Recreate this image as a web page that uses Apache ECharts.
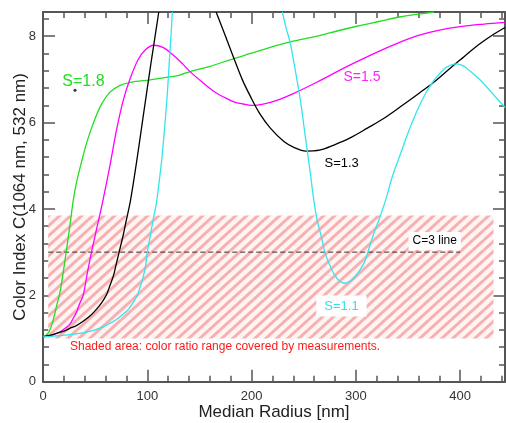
<!DOCTYPE html>
<html><head><meta charset="utf-8">
<script src="https://cdn.jsdelivr.net/npm/echarts@6/dist/echarts.min.js"></script>
<style>html,body{margin:0;padding:0;background:#fff}#c{width:506px;height:423px}</style>
</head><body><div id="c"></div>
<script>
// ---- data (median radius [nm], color index) ----
const S18 = [[0,1.04],[4,1.1],[7,1.22],[10,1.45],[13,1.75],[16.5,2.1],[19.5,2.55],[22.5,3.05],[26,3.65],[29,4.2],[32,4.6],[35.5,4.95],[41.5,5.5],[48,5.97],[56,6.42],[64,6.7],[74,6.86],[84,6.93],[103,6.99],[120,7.05],[131,7.1],[141,7.18],[160,7.3],[180,7.46],[199,7.6],[218,7.74],[237,7.87],[263,8.0],[282,8.12],[301,8.23],[322,8.34],[343,8.45],[360,8.51],[375,8.56]];
const S15 = [[0,1.04],[6.4,1.06],[16,1.15],[22,1.25],[26,1.34],[29,1.47],[32,1.6],[35,1.8],[38.5,2.0],[42,2.45],[46.5,3.0],[52,3.6],[57.5,4.2],[64,4.98],[70.5,5.83],[77,6.52],[83,6.98],[91,7.45],[98,7.68],[106,7.79],[115,7.74],[125,7.56],[133,7.38],[141,7.18],[152,6.95],[164,6.72],[175,6.57],[183,6.48],[192,6.43],[200,6.4],[210,6.42],[225,6.52],[240,6.67],[263,6.94],[282,7.18],[301,7.41],[322,7.65],[343,7.87],[360,8.02],[378,8.13],[400,8.22],[423,8.28],[443,8.32]];
const S13 = [[0,1.04],[6.4,1.07],[13,1.12],[22,1.19],[26,1.24],[32,1.3],[38.5,1.4],[45,1.52],[51,1.67],[56,1.82],[61,2.02],[64.5,2.25],[67.5,2.45],[70,2.7],[73,3.0],[76.5,3.35],[80,3.75],[84,4.21],[90,5.13],[96,6.13],[104,7.45],[107.5,8.0],[111,8.56],null,[166,8.56],[175,8.0],[183,7.49],[191,7.0],[199,6.6],[208,6.2],[218,5.87],[231,5.56],[241,5.42],[252,5.34],[265,5.36],[279,5.48],[295,5.65],[311,5.87],[327,6.1],[343,6.37],[359,6.65],[375,6.94],[391,7.27],[404,7.53],[417,7.79],[430,8.01],[443,8.2]];
const S11 = [[0,1.04],[13,1.06],[25.7,1.09],[35,1.12],[41.7,1.15],[50,1.2],[57.7,1.27],[64,1.35],[70.6,1.44],[76,1.55],[81.7,1.67],[86,1.82],[90.4,2.0],[93.5,2.22],[96.2,2.44],[98.5,2.7],[100,3.0],[103,3.4],[106,3.8],[108.5,4.1],[111,4.55],[113.8,5.13],[116,5.7],[118,6.29],[119.7,6.85],[121.2,7.45],[122.7,8.0],[124,8.56],null,[229.5,8.56],[233,8.2],[237,7.85],[242,7.2],[246.8,6.52],[250,5.95],[253.3,5.36],[256.5,4.8],[259.6,4.21],[262.9,3.74],[267.7,3.28],[270.2,3.0],[275.7,2.66],[282,2.39],[289.7,2.28],[295,2.33],[299.3,2.43],[307.7,2.74],[311.5,3.0],[317.3,3.44],[322,3.74],[328.6,4.21],[335,4.75],[343,5.29],[351,5.82],[359,6.29],[367,6.68],[375,6.98],[385,7.25],[391,7.33],[397,7.36],[404,7.3],[410,7.18],[420,6.97],[430,6.7],[443,6.35]];
const strayDot = [[30.7, 6.75]];
const c3Line = [[5,3],[400,3]];
const shadedX = [5, 432];
const shadedY = [1.0, 3.85];
const xRange = [0, 443];
const yRange = [0, 8.56];
const xName = 'Median Radius [nm]';
const yName = 'Color Index C(1064 nm, 532 nm)';
const labelTexts = ['S=1.8','S=1.5','S=1.3','S=1.1','C=3 line','Shaded area: color ratio range covered by measurements.'];
// label anchors (data space) and styles
const labelLayout = [
  {at:[38.8,6.94], color:'#22dd22', size:16, align:'center'},
  {at:[305.9,7.06], color:'#ff22ff', size:14, align:'center'},
  {at:[286.4,5.06], color:'#000000', size:13, align:'center'},
  {at:[286.2,1.75], color:'#33e0e8', size:13, align:'center', box:[4,8]},
  {at:[375.6,3.26], color:'#000000', size:12, align:'center', box:[3,4]},
  {at:[25.9,0.8], color:'#ff1a1a', size:12, align:'left'}
];
const FONT = '"Liberation Sans", Arial, sans-serif';
const AX = '#555';

function makeHatch(){
  const W=11,H=10; const cv=document.createElement('canvas'); cv.width=W; cv.height=H;
  const g=cv.getContext('2d'); g.fillStyle='#fff4f4'; g.fillRect(0,0,W,H);
  g.strokeStyle='rgba(242,140,140,0.65)'; g.lineWidth=3;
  for (const [dx,dy] of [[0,0],[-W,0],[W,0],[0,-H],[0,H]]) { g.beginPath(); g.moveTo(dx,H+dy); g.lineTo(W+dx,dy); g.stroke(); }
  return cv;
}

function xAx(pos, interval, len, labels, showLine){
  return {type:'value', position:pos, min:xRange[0], max:xRange[1], interval:interval,
    axisLine:{show:showLine, onZero:false, lineStyle:{color:AX, width:2}},
    axisTick:{show:true, inside:true, length:len, lineStyle:{color:AX, width:1.5}},
    axisLabel:{show:labels, color:'#333', fontSize:13, fontFamily:FONT, margin:8, showMaxLabel:false},
    splitLine:{show:false},
    name: (labels ? xName : ''), nameLocation:'middle', nameGap:22, nameMoveOverlap:false,
    nameTextStyle:{fontSize:17, color:'#222', fontFamily:FONT}};
}
function yAx(pos, interval, len, labels, showLine){
  return {type:'value', position:pos, min:yRange[0], max:yRange[1], interval:interval,
    axisLine:{show:showLine, onZero:false, lineStyle:{color:AX, width:2}},
    axisTick:{show:true, inside:true, length:len, lineStyle:{color:AX, width:1.5}},
    axisLabel:{show:labels, color:'#333', fontSize:13, fontFamily:FONT, margin:7, showMaxLabel:false},
    splitLine:{show:false},
    name: (labels ? yName : ''), nameLocation:'middle', nameGap:14, nameMoveOverlap:false,
    nameTextStyle:{fontSize:17, color:'#222', fontFamily:FONT}};
}

const chart = echarts.init(document.getElementById('c'), null, {renderer:'canvas'});
function curve(data, color){
  return {type:'line', data:data, xAxisIndex:0, yAxisIndex:0, showSymbol:false, smooth:0.35,
    connectNulls:false, lineStyle:{color:color, width:1.3}, itemStyle:{color:color}, z:5, animation:false};
}
chart.setOption({
  animation:false,
  backgroundColor:'#fff',
  grid:{left:43, right:1, top:12, bottom:41.3, containLabel:false, outerBoundsMode:'none'},
  xAxis:[xAx('bottom',100,12,true,true), xAx('bottom',20,6,false,false), xAx('top',100,12,false,true), xAx('top',20,6,false,false)],
  yAxis:[yAx('left',2,12,true,true), yAx('left',0.4,6,false,false), yAx('right',2,12,false,true), yAx('right',0.4,6,false,false)],
  series:[
    {type:'line', data:[], xAxisIndex:0, yAxisIndex:0, z:1, silent:true,
      markArea:{silent:true, itemStyle:{color:{image:makeHatch(), repeat:'repeat'}},
        data:[[{xAxis:shadedX[0], yAxis:shadedY[0]},{xAxis:shadedX[1], yAxis:shadedY[1]}]]}},
    {type:'line', data:c3Line, showSymbol:false, z:3, lineStyle:{color:'#333', width:1, type:[5,3]}},
    curve(S18,'#22dd22'),
    curve(S15,'#ff00ff'),
    curve(S13,'#000000'),
    curve(S11,'#33e6ec'),
    {type:'scatter', data:strayDot, symbolSize:3, itemStyle:{color:'#000'}, z:6}
  ]
});
const gr = labelTexts.map((t,i)=>{
  const L = labelLayout[i];
  const p = chart.convertToPixel({xAxisIndex:0, yAxisIndex:0}, L.at);
  const st = {text:t, x:p[0], y:p[1], fill:L.color, font:L.size+'px '+FONT, align:L.align, verticalAlign:'middle'};
  if (L.box){ st.backgroundColor='#ffffff'; st.padding=L.box; }
  return {type:'text', z:100, style:st};
});
chart.setOption({graphic:gr});
</script></body></html>
